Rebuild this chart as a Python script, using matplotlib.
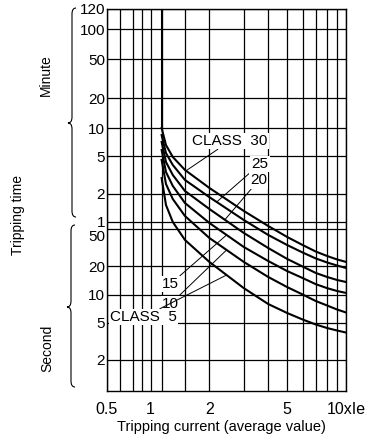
import numpy as np
import matplotlib.pyplot as plt
from matplotlib.path import Path
from matplotlib.patches import PathPatch

plt.rcParams['font.family'] = ['Liberation Sans', 'DejaVu Sans']

# tripping current (multiples of Ie) and tripping time in seconds per class
current = [1.14, 1.2, 1.3, 1.5, 2, 3, 4, 5, 6, 7, 8, 9, 10]
class_30 = [604, 397, 296, 215, 138, 78.2, 54.0, 41.2, 33.8, 28.8, 25.8, 23.7, 22.3]
class_25 = [508, 326, 243, 168, 110, 62.6, 43.3, 33.8, 28.1, 24.3, 22.0, 20.4, 19.2]
class_20 = [428, 261, 190, 128, 82.1, 45.5, 31.4, 24.0, 19.9, 17.0, 15.4, 14.3, 13.6]
class_15 = [351, 204, 145, 95.2, 58.2, 32.2, 22.8, 17.8, 15.0, 12.9, 11.7, 10.9, 10.4]
class_10 = [275, 152, 105, 69.1, 40.2, 22.3, 15.4, 12.0, 10.0, 8.52, 7.63, 6.91, 6.42]
class_5 = [176, 90.6, 59.6, 38.3, 22.3, 11.7, 7.91, 6.34, 5.40, 4.78, 4.38, 4.12, 3.92]
classes = [class_30, class_25, class_20, class_15, class_10, class_5]

x_grid = [0.6, 0.7, 0.8, 1, 1.14, 1.5, 2, 3, 4, 5, 6, 7, 8, 9]
x_ticks = [0.5, 1, 2, 5, 10]
x_labels = ['0.5', '1', '2', '5', '10xIe']
sec_ticks = [2, 5, 10, 20]
sec_labels = ['2', '5', '10', '20']
min_ticks = [1, 2, 5, 10, 20, 50, 100, 120]
min_labels = ['1', '2', '5', '10', '20', '50', '100', '120']

W, H = 378, 441

# the printed chart grid is not a clean log scale, so map log values through knots
xk_val = np.log10([0.01, 0.5, 0.6, 0.7, 0.8, 1, 10, 1000])
xk_px = np.array([107 - 195.5 * np.log10(50), 107, 120, 132.7, 141.7, 150.5, 346, 346 + 391])
yk_val = np.log10([1e-3, 0.94, 10, 60, 600, 6000, 7200, 1e6])
yk_px = H - np.array([390.5 + 93.5 * np.log10(940), 390.5, 294.5, 221.7, 128.3, 29.3, 8.7,
                      8.7 - 93.5 * np.log10(1e6 / 7200)])


def fx(v):
    return np.interp(np.log10(np.clip(v, 1e-12, None)), xk_val, xk_px)


def ix(p):
    return 10 ** np.interp(p, xk_px, xk_val)


def fy(v):
    return np.interp(np.log10(np.clip(v, 1e-12, None)), yk_val, yk_px)


def iy(p):
    return 10 ** np.interp(p, yk_px, yk_val)


fig = plt.figure(figsize=(W / 100, H / 100), dpi=100)
ax = fig.add_axes([107 / W, (H - 390.5) / H, (346 - 107) / W, (390.5 - 8.7) / H])
ax.set_xscale('function', functions=(fx, ix))
ax.set_yscale('function', functions=(fy, iy))
ax.set_xlim(0.5, 10)
ax.set_ylim(0.94, 7200)

sec_all = sec_ticks + [m * 60 for m in min_ticks]
ax.set_xticks(x_ticks)
ax.set_xticklabels(x_labels)
ax.set_xticks(x_grid, minor=True)
ax.set_yticks(sec_all)
ax.set_yticklabels(sec_labels + min_labels)
ax.set_yticks([50], minor=True)
ax.tick_params(which='both', length=0)
ax.tick_params(axis='x', pad=8, labelsize=11.5)
ax.tick_params(axis='y', pad=1.5, labelsize=11)
ax.grid(which='both', color='black', lw=0.9)
ax.set_axisbelow(True)
for s in ax.spines.values():
    s.set_linewidth(1.0)

# seconds "50" is printed a little below its line
ax.annotate('50', xy=(0, 50), xycoords=('axes fraction', 'data'), xytext=(-1.5, -5.5),
            textcoords='offset points', ha='right', va='center', fontsize=11)

for c in classes:
    ax.plot(current, c, color='black', lw=1.5, zorder=4)
ax.vlines(current[0], class_30[0], 7200, color='black', lw=1.5, zorder=4)


def on_curve(x, c):
    return 10 ** np.interp(np.log10(x), np.log10(current), np.log10(c))


def ax_pos(px, py):
    return ((px - 107) / (346 - 107), (390.5 - py) / (390.5 - 8.7))


box = dict(boxstyle='square,pad=0.08', fc='white', ec='none')
arrow = dict(arrowstyle='-', lw=0.7, color='black', shrinkA=0, shrinkB=0)
labels = [
    ('CLASS  30', (230, 141), 1.52, class_30),
    ('25', (260, 164), 2.18, class_25),
    ('20', (258.5, 180.5), 2.4, class_20),
    ('15', (170.5, 284), 2.45, class_15),
    ('10', (170.5, 304), 2.45, class_10),
    ('CLASS  5', (143.5, 317), 2.45, class_5),
]
for text, (px, py), xe, c in labels:
    ax.annotate(text, xy=(xe, on_curve(xe, c)), xytext=ax_pos(px, py), textcoords='axes fraction',
                ha='center', va='center', fontsize=11, bbox=box, arrowprops=arrow, zorder=3)

ax.set_xlabel('Tripping current (average value)', fontsize=10.5)
ax.xaxis.set_label_coords((221.7 - 107) / (346 - 107), -(427 - 390.5) / (390.5 - 8.7))
ax.xaxis.label.set_va('center')

fig.text(18 / W, 1 - 215 / H, 'Tripping time', rotation=90, ha='center', va='center', fontsize=10)
fig.text(46 / W, 1 - 75 / H, 'Minute', rotation=90, ha='center', va='center', fontsize=10)
fig.text(47 / W, 1 - 348 / H, 'Second', rotation=90, ha='center', va='center', fontsize=10)


def brace(x, ytop, ybot, ytip, w=4, d=6):
    pts = [(x + w, ytop), (x, ytop), (x, ytop + d), (x, ytip - d), (x, ytip), (x - w, ytip),
           (x, ytip), (x, ytip + d), (x, ybot - d), (x, ybot), (x + w, ybot)]
    codes = [Path.MOVETO, Path.CURVE3, Path.CURVE3, Path.LINETO, Path.CURVE3, Path.CURVE3,
             Path.CURVE3, Path.CURVE3, Path.LINETO, Path.CURVE3, Path.CURVE3]
    verts = [(px / W, 1 - py / H) for px, py in pts]
    fig.add_artist(PathPatch(Path(verts, codes), transform=fig.transFigure, fill=False, lw=0.8))


brace(72, 8, 217, 123)
brace(71, 225, 387, 307)

fig.savefig('out.png', dpi=100)
